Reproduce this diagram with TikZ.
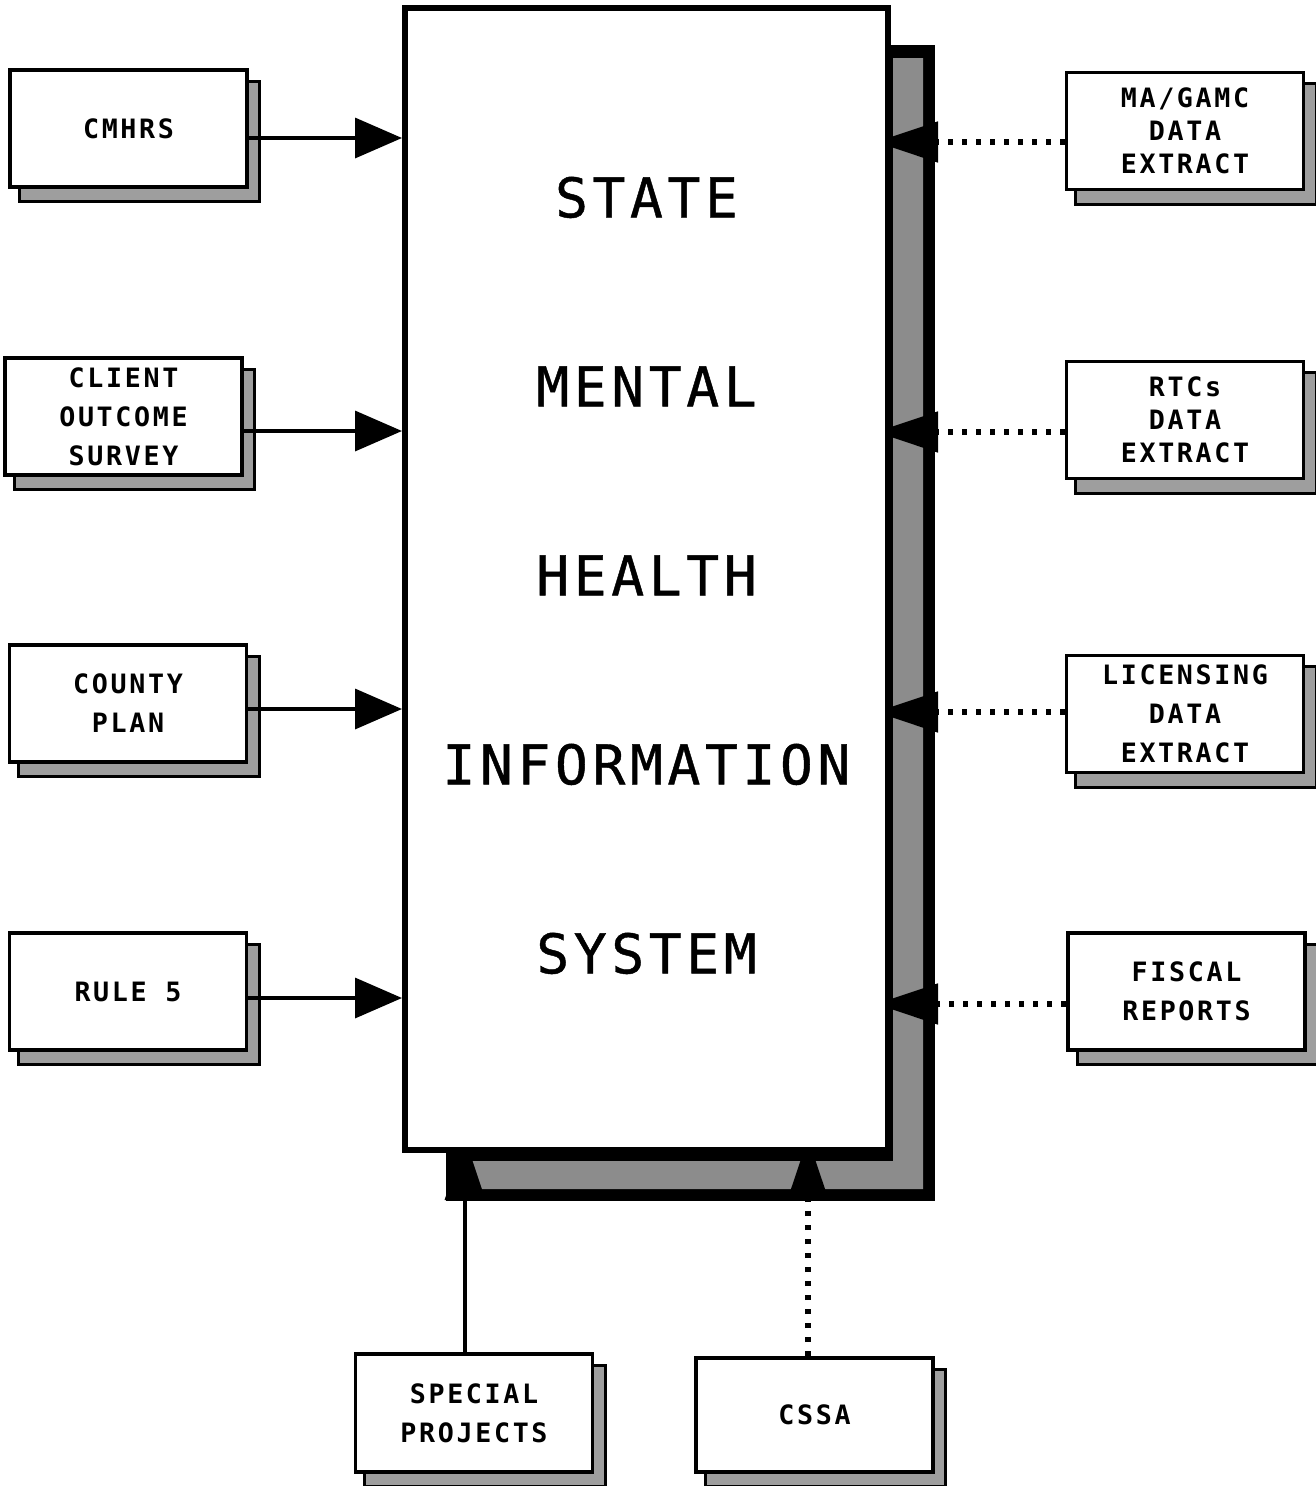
\documentclass[tikz,border=0pt]{standalone}
\usepackage{fontspec}
\usetikzlibrary{arrows.meta,backgrounds,calc}
\newfontfamily\titlefont[LetterSpace=8.4,FakeBold=0.8]{DejaVu Sans Mono}
\newfontfamily\labelfont[LetterSpace=10]{DejaVu Sans Mono}

\begin{document}
\begin{tikzpicture}[x=0.75pt,y=-0.75pt,
  srcbox/.style={draw, line width=2.8pt, fill=white,
    minimum width=177.75pt, minimum height=87.75pt, inner sep=0pt,
    align=center, font=\labelfont\bfseries\fontsize{20}{29.25}\selectfont},
  tightlines/.style={font=\labelfont\bfseries\fontsize{20}{24.75}\selectfont},
  mainbox/.style={draw, line width=4.5pt, fill=white,
    minimum width=362.25pt, minimum height=856.5pt, inner sep=0pt,
    align=center, font=\titlefont\fontsize{41}{141.75}\selectfont},
  boxshadow/.style={draw=black, line width=2.25pt, fill=black!38},
  feed/.style={line width=2.6pt, -{Triangle[length=35.25pt,width=30pt]}},
  hiddentip/.style={-{Triangle[length=46.5pt,width=30pt]}, shorten >=-11.25pt},
  dotfeed/.style={hiddentip, line width=3.8pt, dash pattern=on 3.8pt off 6.7pt},
  solidfeed/.style={hiddentip, line width=2.6pt},
]
\useasboundingbox (0,0) rectangle (1316,1486);

% central system box
\node[mainbox, text depth=6pt] (smhis) at (646.5,579) {STATE\\MENTAL\\HEALTH\\INFORMATION\\SYSTEM};

% input sources (left)
\node[srcbox] (cmhrs)  at (128.5,128.5) {CMHRS};
\node[srcbox] (client) at (123.5,416.5) {CLIENT\\OUTCOME\\SURVEY};
\node[srcbox] (county) at (128,703.5)   {COUNTY\\PLAN};
\node[srcbox] (rule5)  at (128,991.5)   {RULE 5};

% data extracts (right)
\node[srcbox,tightlines] (magamc)    at (1185,131)   {MA/GAMC\\DATA\\EXTRACT};
\node[srcbox,tightlines] (rtcs)      at (1185,420)   {RTCs\\DATA\\EXTRACT};
\node[srcbox]            (licensing) at (1185,714)   {LICENSING\\DATA\\EXTRACT};
\node[srcbox]            (fiscal)    at (1186.5,991.5) {FISCAL\\REPORTS};

% bottom sources
\node[srcbox, minimum height=88.5pt] (special) at (474,1413)  {SPECIAL\\PROJECTS};
\node[srcbox, minimum height=85.5pt] (cssa)    at (814.5,1415) {CSSA};

\begin{scope}[on background layer]
  % shadow of the central box: black frame with an L-shaped grey band
  \fill[black] (446,45) rectangle (935,1201);
  \fill[black!45] (893,58) -- (923,58) -- (923,1189) -- (460,1189)
                  -- (460,1161) -- (893,1161) -- cycle;
  % shadows of the source boxes
  \foreach \n in {cmhrs,client,county,rule5,magamc,rtcs,licensing,fiscal,special,cssa}
    \path[boxshadow] ($(\n.south west)+(11,13)$) rectangle ($(\n.north east)+(11,13)$);

  % dotted extract links, tips tucked under the central box
  \draw[dotfeed] (magamc.west |- 0,142)     -- (smhis.east |- 0,142);
  \draw[dotfeed] (rtcs.west |- 0,432)       -- (smhis.east |- 0,432);
  \draw[dotfeed] (licensing.west |- 0,712)  -- (smhis.east |- 0,712);
  \draw[dotfeed] (fiscal.west |- 0,1004)    -- (smhis.east |- 0,1004);
  \draw[dotfeed] (cssa.north -| 808,0)      -- (smhis.south -| 808,0);
  \draw[solidfeed] (special.north -| 465,0) -- (smhis.south -| 465,0);
\end{scope}

% solid input links
\draw[feed] (cmhrs.east |- 0,138)  -- (smhis.west |- 0,138);
\draw[feed] (client.east |- 0,431) -- (smhis.west |- 0,431);
\draw[feed] (county.east |- 0,709) -- (smhis.west |- 0,709);
\draw[feed] (rule5.east |- 0,998)  -- (smhis.west |- 0,998);
\end{tikzpicture}
\end{document}
